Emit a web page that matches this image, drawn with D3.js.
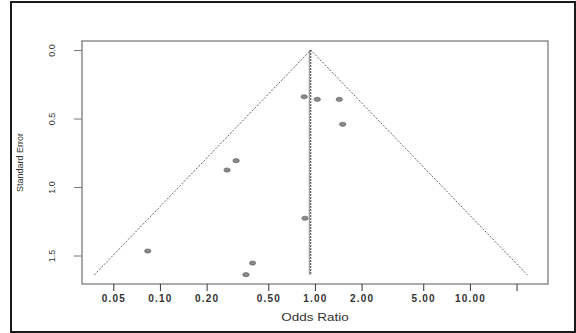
<!DOCTYPE html>
<meta charset="utf-8">
<script src="https://d3js.org/d3.v7.min.js"></script>
<style>
  body { margin: 0; background: #fff; }
</style>
<div id="my_chart"><svg></svg></div>
<script>
// study estimates
var oddsRatio = [0.853, 1.035, 1.436, 1.51, 0.310, 0.271, 0.0834, 0.396, 0.359, 0.863];
var stdError  = [0.341, 0.360, 0.360, 0.542, 0.808, 0.876, 1.467, 1.555, 1.640, 1.228];
// pooled estimate (fixed / random) and the funnel depth
var pooledFixed = 0.92, pooledRandom = 0.94, funnelSE = 1.642;
var xTicks = [0.05, 0.1, 0.2, 0.5, 1, 2, 5, 10, 20];
var xTickLabels = ["0.05", "0.10", "0.20", "0.50", "1.00", "2.00", "5.00", "10.00", ""];
var yTicks = [0, 0.5, 1.0, 1.5];
var yTickLabels = ["0.0", "0.5", "1.0", "1.5"];

var W = 576, H = 333;
var svg = d3.select("#my_chart").select("svg")
    .attr("width", W).attr("height", H);

// outer frame of the figure
svg.append("rect")
    .attr("x", 11).attr("y", 2).attr("width", 564).attr("height", 330)
    .attr("fill", "none").attr("stroke", "#1a1a1a").attr("stroke-width", 2);

var box = {left: 82, right: 548, top: 41, bottom: 284};

var x = d3.scaleLog()
    .domain([Math.pow(10, -1.503), Math.pow(10, 1.504)])
    .range([box.left, box.right]);
var y = d3.scaleLinear()
    .domain([-0.066, 1.708])
    .range([box.top, box.bottom]);

// funnel triangle
var lo = Math.exp(Math.log(pooledRandom) - 1.96 * funnelSE);
var hi = Math.exp(Math.log(pooledRandom) + 1.96 * funnelSE);
var line = d3.line().x(function(d) { return x(d[0]); }).y(function(d) { return y(d[1]); });
svg.append("path")
    .attr("d", line([[lo, funnelSE], [pooledRandom, 0], [hi, funnelSE]]))
    .attr("fill", "none").attr("stroke", "#666")
    .attr("stroke-width", 1).attr("stroke-dasharray", "2,1.5");

// vertical lines at pooled estimates
svg.append("line")
    .attr("x1", x(pooledFixed)).attr("x2", x(pooledFixed))
    .attr("y1", y(0)).attr("y2", y(funnelSE))
    .attr("stroke", "#777").attr("stroke-width", 0.9);
svg.append("line")
    .attr("x1", x(pooledRandom)).attr("x2", x(pooledRandom))
    .attr("y1", y(0)).attr("y2", y(funnelSE))
    .attr("stroke", "#222").attr("stroke-width", 0.9).attr("stroke-dasharray", "2,1");

// points
svg.append("g").selectAll("ellipse")
    .data(d3.range(oddsRatio.length))
    .join("ellipse")
    .attr("cx", function(i) { return x(oddsRatio[i]); })
    .attr("cy", function(i) { return y(stdError[i]); })
    .attr("rx", 3.2).attr("ry", 2.1)
    .attr("fill", "#8a8a8a").attr("stroke", "#5a5a5a").attr("stroke-width", 0.6);

// plot box
svg.append("rect")
    .attr("x", box.left).attr("y", box.top)
    .attr("width", box.right - box.left).attr("height", box.bottom - box.top)
    .attr("fill", "none").attr("stroke", "#555").attr("stroke-width", 1);

// x axis
var xAxis = svg.append("g")
    .attr("transform", "translate(0," + box.bottom + ")")
    .call(d3.axisBottom(x).tickValues(xTicks).tickSize(7).tickPadding(4)
        .tickFormat(function(d, i) { return xTickLabels[i]; }));
xAxis.select(".domain").remove();
xAxis.selectAll("line").attr("stroke", "#333");
xAxis.selectAll("text")
    .attr("font-family", "Liberation Sans, Arial, sans-serif")
    .attr("font-size", 10).attr("font-weight", "bold")
    .attr("letter-spacing", "1.2px").attr("fill", "#333");

// y axis (labels rotated, R style)
var yAxis = svg.append("g")
    .attr("transform", "translate(" + box.left + ",0)")
    .call(d3.axisLeft(y).tickValues(yTicks).tickSize(8)
        .tickFormat(function(d, i) { return yTickLabels[i]; }));
yAxis.select(".domain").remove();
yAxis.selectAll("line").attr("stroke", "#777");
yAxis.selectAll("text")
    .attr("x", 0).attr("y", 0).attr("dy", "0.35em")
    .attr("transform", "translate(-30,0) rotate(-90)")
    .attr("text-anchor", "middle")
    .attr("font-family", "Liberation Sans Narrow, Arial Narrow, sans-serif")
    .attr("font-size", 9).attr("fill", "#333");

// axis titles
svg.append("text")
    .attr("transform", "translate(" + 315 + ",321) scale(1.35,1)")
    .attr("text-anchor", "middle")
    .attr("font-family", "Liberation Sans, Arial, sans-serif")
    .attr("font-size", 10).attr("fill", "#333")
    .text("Odds Ratio");
svg.append("text")
    .attr("transform", "translate(23," + (box.top + box.bottom) / 2 + ") rotate(-90)")
    .attr("text-anchor", "middle")
    .attr("font-family", "Liberation Sans Narrow, Arial Narrow, sans-serif")
    .attr("font-size", 9).attr("fill", "#333")
    .text("Standard Error");
</script>
